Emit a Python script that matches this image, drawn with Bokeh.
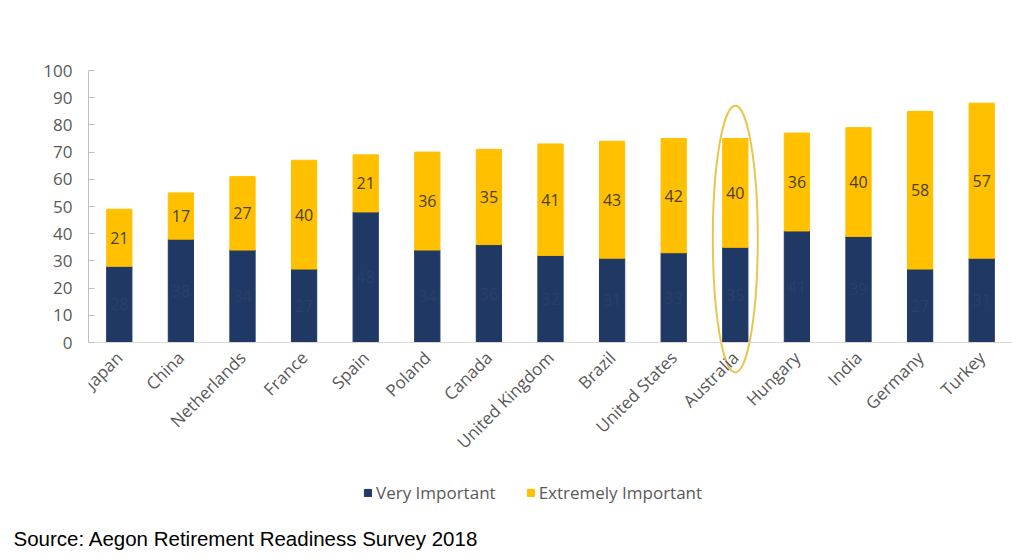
import math
from bokeh.plotting import figure
from bokeh.models import (ColumnDataSource, FactorRange, Range1d, Legend, LegendItem, Title)
from bokeh.core.properties import value
from bokeh.embed import file_html
from bokeh.resources import INLINE

countries = ["Japan", "China", "Netherlands", "France", "Spain", "Poland", "Canada",
             "United Kingdom", "Brazil", "United States", "Australia", "Hungary",
             "India", "Germany", "Turkey"]
very_important = [28, 38, 34, 27, 48, 34, 36, 32, 31, 33, 35, 41, 39, 27, 31]
extremely_important = [21, 17, 27, 40, 21, 36, 35, 41, 43, 42, 40, 36, 40, 58, 57]
y_ticks = [0, 10, 20, 30, 40, 50, 60, 70, 80, 90, 100]
highlight = "Australia"
source_note = "Source: Aegon Retirement Readiness Survey 2018"

NAVY = "#1f3864"
GOLD = "#ffc000"
FONT = "Open Sans"

tops = [a + b for a, b in zip(very_important, extremely_important)]
src = ColumnDataSource(dict(
    c=countries,
    v=very_important,
    e=extremely_important,
    top=tops,
    vmid=[a / 2 for a in very_important],
    emid=[a + b / 2 for a, b in zip(very_important, extremely_important)],
    vlab=[str(a) for a in very_important],
    elab=[str(b) for b in extremely_important],
))

# frame: top at 70px, bottom at 520px; 0..100 spans 272px
PX_PER_UNIT = 2.72
FRAME_H = 450
y_start = 100 - FRAME_H / PX_PER_UNIT

p = figure(width=1024, height=560, x_range=FactorRange(*countries),
           y_range=Range1d(y_start, 100), output_backend="svg", toolbar_location=None,
           min_border_left=88, min_border_right=12, min_border_top=70,
           min_border_bottom=40)
p.outline_line_color = None
p.xgrid.grid_line_color = None
p.ygrid.grid_line_color = None
p.background_fill_color = "white"
p.border_fill_color = "white"

r1 = p.vbar(x="c", bottom=0, top="v", width=0.41, color=NAVY, source=src)
r2 = p.vbar(x="c", bottom="v", top="top", width=0.41, color=GOLD, source=src)

p.text(x="c", y="vmid", text="vlab", source=src, text_align="center",
       text_baseline="middle", text_font=value(FONT), text_font_size="16px",
       text_color="#2b3f6a")
p.text(x="c", y="emid", text="elab", source=src, text_align="center",
       text_baseline="middle", text_font=value(FONT), text_font_size="16px",
       text_color="#4a4128")

# highlight ellipse around Australia
p.ellipse(x=[highlight], y=[38], width=0.73, height=98, fill_color=None,
          line_color="#e9c54e", line_width=2)

# axes
p.yaxis.ticker = y_ticks
p.yaxis.bounds = (0, 100)
p.yaxis.axis_line_color = "#bfbfbf"
p.yaxis.major_tick_line_color = "#bfbfbf"
p.yaxis.major_tick_in = 6
p.yaxis.major_tick_out = 0
p.yaxis.minor_tick_line_color = None
p.yaxis.major_label_text_font = FONT
p.yaxis.major_label_text_font_size = "17px"
p.yaxis.major_label_text_color = "#595959"
p.yaxis.major_label_standoff = 16

p.xaxis.fixed_location = 0
p.xaxis.axis_line_color = "#d9d9d9"
p.xaxis.major_tick_line_color = None
p.xaxis.major_label_orientation = math.pi / 4
p.xaxis.major_label_text_font = FONT
p.xaxis.major_label_text_font_size = "17px"
p.xaxis.major_label_text_color = "#595959"
p.xaxis.major_label_standoff = 6

legend = Legend(items=[LegendItem(label="Very Important", renderers=[r1]),
                       LegendItem(label="Extremely Important", renderers=[r2])],
                orientation="horizontal", location=(275, 16),
                label_text_font=FONT, label_text_font_size="17px",
                label_text_color="#595959", glyph_width=9, glyph_height=9,
                spacing=30, label_standoff=4, padding=0, margin=0,
                background_fill_alpha=0, border_line_color=None)
p.add_layout(legend, "center")

p.add_layout(Title(text=source_note, align="left", offset=-75,
                   text_font="Liberation Sans", text_font_size="20.5px",
                   text_font_style="normal", text_color="#000000",
                   vertical_align="middle"), "below")

open("out.html", "w").write(file_html(p, INLINE))
